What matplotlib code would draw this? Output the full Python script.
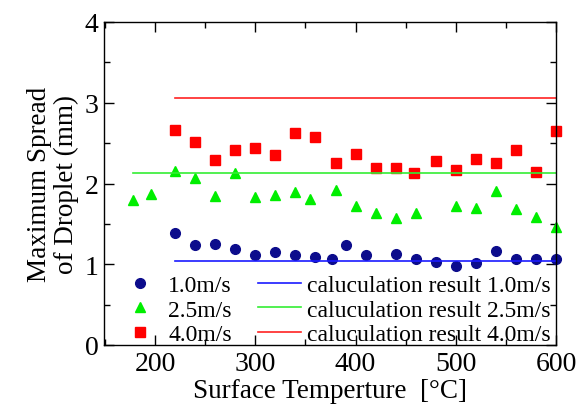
import matplotlib.pyplot as plt
from matplotlib.ticker import MultipleLocator

# data
temp_1 = [220, 240, 260, 280, 300, 320, 340, 360, 376, 390, 410, 440, 460, 480, 500, 520, 540, 560, 580, 600]
spread_1 = [1.39, 1.24, 1.25, 1.19, 1.11, 1.15, 1.11, 1.09, 1.07, 1.24, 1.11, 1.13, 1.07, 1.03, 0.98, 1.02, 1.16, 1.07, 1.06, 1.06]

temp_25 = [178, 196, 220, 240, 260, 280, 300, 320, 340, 355, 380, 400, 420, 440, 460, 500, 520, 540, 560, 580, 600]
spread_25 = [1.80, 1.87, 2.15, 2.07, 1.84, 2.13, 1.83, 1.86, 1.90, 1.81, 1.92, 1.72, 1.63, 1.57, 1.63, 1.72, 1.70, 1.91, 1.69, 1.59, 1.46]

temp_4 = [220, 240, 260, 280, 300, 320, 340, 360, 380, 400, 420, 440, 458, 480, 500, 520, 540, 560, 580, 600]
spread_4 = [2.66, 2.52, 2.29, 2.42, 2.44, 2.35, 2.63, 2.58, 2.25, 2.36, 2.19, 2.19, 2.13, 2.28, 2.17, 2.30, 2.26, 2.42, 2.14, 2.65]

calc_x_1 = [220, 600]
calc_1 = 1.04
calc_x_25 = [178, 600]
calc_25 = 2.125
calc_x_4 = [220, 600]
calc_4 = 3.06

plt.rcParams['font.family'] = ['Liberation Serif', 'DejaVu Serif']
plt.rcParams['mathtext.fontset'] = 'stix'

fig = plt.figure(figsize=(5.85, 4.1), dpi=100)
ax = fig.add_axes([104 / 585, 1 - 346 / 410, (556 - 104) / 585, (346 - 23) / 410])

p1, = ax.plot(temp_1, spread_1, 'o', color='#0c0c8c', markersize=7, linestyle='none', label='1.0m/s', clip_on=False)
p2, = ax.plot(temp_25, spread_25, '^', color='#00ee00', markersize=7.5, linestyle='none', label='2.5m/s', clip_on=False)
p3, = ax.plot(temp_4, spread_4, 's', color='#ff0000', markersize=6.5, linestyle='none', label='4.0m/s', clip_on=False)
l1, = ax.plot(calc_x_1, [calc_1, calc_1], color='#1a1aff', lw=1.2, label='caluculation result 1.0m/s')
l2, = ax.plot(calc_x_25, [calc_25, calc_25], color='#33ee33', lw=1.2, label='caluculation result 2.5m/s')
l3, = ax.plot(calc_x_4, [calc_4, calc_4], color='#ff2222', lw=1.2, label='caluculation result 4.0m/s')

ax.set_xlim(149, 600)
ax.set_ylim(0, 4)
ax.xaxis.set_major_locator(MultipleLocator(100))
ax.xaxis.set_minor_locator(MultipleLocator(50))
ax.yaxis.set_major_locator(MultipleLocator(1))
ax.yaxis.set_minor_locator(MultipleLocator(0.5))
ax.tick_params(which='both', direction='in', top=True, right=True, labelsize=20, width=1)
ax.tick_params(which='major', length=7, pad=4)
ax.tick_params(which='minor', length=4)
for s in ax.spines.values():
    s.set_linewidth(1)

ax.set_xlabel('Surface Temperture  [°C]', fontsize=19.5, labelpad=2)
ax.set_ylabel('Maximum Spread\nof Droplet (mm)', fontsize=19.5, labelpad=4, linespacing=1.1)

ax.legend(handles=[p1, p2, p3, l1, l2, l3], ncol=2, frameon=False, fontsize=17,
          loc='lower left', bbox_to_anchor=((119 - 104) / 452, 0.0), handlelength=1.82,
          handletextpad=0.27, columnspacing=1.1, labelspacing=0.12, borderaxespad=0,
          borderpad=0)

plt.savefig('out.png', dpi=100)
